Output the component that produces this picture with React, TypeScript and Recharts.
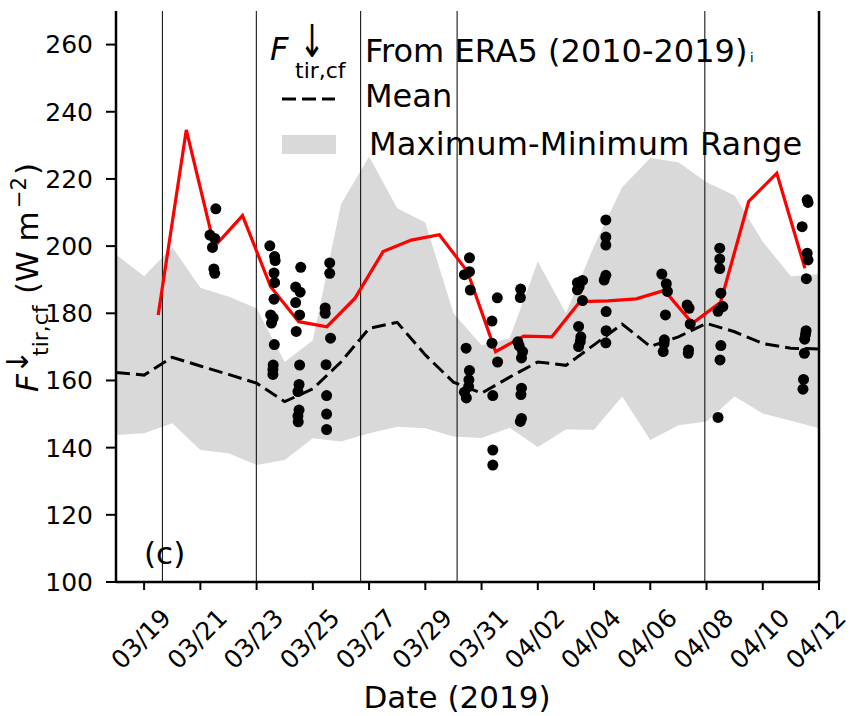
import {
    ComposedChart,
    Area,
    Line,
    Scatter,
    XAxis,
    YAxis,
    ReferenceLine,
} from 'recharts'

// day index: 0 = 03/18, 25 = 04/12
const days = [0, 1, 2, 3, 4, 5, 6, 7, 8, 9, 10, 11, 12, 13, 14, 15, 16, 17, 18, 19, 20, 21, 22, 23, 24, 25]
const eraMax = [197.5, 191, 199.7, 187.6, 185, 181.5, 165.5, 172, 212.5, 226.7, 211.3, 207, 180, 170.5, 172.6, 195.4, 180, 200, 217.5, 226.2, 225, 219, 215.1, 201.3, 191, 191.6]
const eraMin = [143.8, 144.3, 147.3, 139.3, 138.3, 134.8, 136.3, 142.8, 141.8, 144.3, 146.2, 145.8, 143.3, 142.9, 145.9, 140.2, 145.4, 145.3, 155.2, 142.3, 146.7, 147.8, 155.2, 150.2, 148, 145.8]
const eraMean = [162.4, 161.6, 166.9, 164.3, 161.8, 159.2, 153.7, 157.5, 165.5, 175.5, 177.3, 167.6, 159.5, 156.2, 161, 165.5, 164.5, 170.6, 176.8, 170.1, 173, 177, 174.5, 171, 169.6, 169.4]

// daily values 2019 (red)
const redDays = [1.5, 2.5, 3.5, 4.5, 5.5, 6.5, 7.5, 8.5, 9.5, 10.5, 11.5, 12.5, 13.5, 14.5, 15.5, 16.5, 17.5, 18.5, 19.5, 20.5, 21.5, 22.5, 23.5, 24.5]
const redVals = [179.5, 234.6, 199.9, 209.1, 187.9, 177.5, 176, 184.5, 198.4, 201.8, 203.4, 192.4, 168.6, 173.2, 173, 183.5, 183.7, 184.3, 186.8, 177, 183.3, 213.3, 221.7, 193.4]

// observations [day, value]
const obs: [number, number][] = [
    [3.55, 211.1], [3.34, 203.3], [3.51, 202.3], [3.43, 199.6], [3.48, 193.2], [3.51, 191.9],
    [5.47, 200.1], [5.64, 196.9], [5.66, 195.7], [5.62, 192], [5.64, 189.1], [5.62, 184.2], [5.5, 179.5], [5.59, 178.6], [5.53, 177.1], [5.63, 170.7], [5.59, 164.6], [5.58, 163.3], [5.58, 161.8],
    [6.57, 193.7], [6.39, 187.8], [6.55, 186.3], [6.39, 183.2], [6.53, 179.5], [6.41, 174.6], [6.53, 164.6], [6.51, 158.8], [6.47, 156.7], [6.51, 151.2], [6.47, 149.4], [6.48, 147.7],
    [7.6, 195], [7.6, 191.9], [7.44, 181.6], [7.44, 180], [7.63, 172.6], [7.47, 164.7], [7.49, 155.5], [7.49, 150], [7.49, 145.4],
    [12.57, 196.5], [12.39, 191.5], [12.57, 192.4], [12.6, 186.9], [12.45, 169.6], [12.57, 163], [12.55, 160.2], [12.54, 158.2], [12.39, 156.5], [12.46, 154.8],
    [13.56, 184.6], [13.37, 177.7], [13.37, 171.1], [13.57, 165.5], [13.4, 155.5], [13.4, 139.3], [13.4, 134.8],
    [14.39, 187.2], [14.38, 184.7], [14.29, 171.5], [14.34, 170.3], [14.46, 168.6], [14.42, 166.7], [14.42, 157.7], [14.4, 155.8], [14.42, 148.7], [14.38, 147.8],
    [16.59, 189.8], [16.41, 189.1], [16.47, 187.9], [16.41, 187], [16.59, 183.8], [16.45, 176.1], [16.53, 173], [16.51, 171.6], [16.45, 170.1],
    [17.42, 207.8], [17.42, 202.7], [17.42, 200.3], [17.42, 191.3], [17.36, 189.9], [17.43, 180.5], [17.43, 174.8], [17.42, 171.2],
    [19.41, 191.7], [19.57, 188.8], [19.61, 186.5], [19.54, 179.5], [19.5, 172.1], [19.49, 171], [19.46, 168.6],
    [20.31, 182.5], [20.38, 181.5], [20.42, 176.8], [20.36, 169.1], [20.35, 168.1],
    [21.47, 199.4], [21.47, 196.2], [21.47, 193.3], [21.51, 186], [21.58, 182], [21.41, 180.6], [21.51, 170.4], [21.48, 166.1], [21.41, 149],
    [24.58, 213.8], [24.61, 213], [24.4, 205.8], [24.58, 197.9], [24.61, 195.9], [24.55, 190.3], [24.54, 174.8], [24.52, 173.7], [24.49, 172.3], [24.48, 168.1], [24.45, 160.3], [24.43, 157.4],
]

const dividers = [1.65, 4.99, 8.7, 12.13, 20.94]

const xTicks = [1, 3, 5, 7, 9, 11, 13, 15, 17, 19, 21, 23, 25]
const xTickLabels = ['03/19', '03/21', '03/23', '03/25', '03/27', '03/29', '03/31', '04/02', '04/04', '04/06', '04/08', '04/10', '04/12']
const yTicks = [100, 120, 140, 160, 180, 200, 220, 240, 260]

const FONT = 'DejaVu Sans'
const W = 850
const H = 716

const bandData = days.map((d, i) => ({ d, lo: eraMin[i], hi: eraMax[i] }))
const meanData = days.map((d, i) => ({ d, v: eraMean[i] }))
const redData = redDays.map((d, i) => ({ d, v: redVals[i] }))
const obsData = obs.map(([d, v]) => ({ d, v }))

const axisLine = { stroke: '#000', strokeWidth: 2.5 }
const tickLine = { stroke: '#000', strokeWidth: 2 }

function DateTick({ x, y, payload }: any) {
    const i = xTicks.indexOf(payload.value)
    const cx = x - 3
    const cy = y + 49
    return (
        <text
            x={cx}
            y={cy}
            transform={`rotate(-45 ${cx} ${cy})`}
            textAnchor="middle"
            dominantBaseline="central"
            fontSize={25}
            fontFamily={FONT}
            fill="#000"
        >
            {xTickLabels[i]}
        </text>
    )
}

function Overlay() {
    return (
        <svg
            width={W}
            height={H}
            style={{ position: 'absolute', left: 0, top: 0, pointerEvents: 'none' }}
            fontFamily={FONT}
        >
            {/* legend */}
            <text x={270} y={60} fontSize={32} fontStyle="italic">F</text>
            <text transform="translate(312,57) scale(1,1.5)" fontSize={30} textAnchor="middle">↓</text>
            <text x={295} y={78} fontSize={22}>tir,cf</text>
            <text x={365} y={62} fontSize={32}>From ERA5 (2010-2019)</text>
            <text x={750} y={62} fontSize={13}>i</text>

            <line x1={282} x2={335} y1={99} y2={99} stroke="#000" strokeWidth={3} strokeDasharray="14 6" />
            <text x={365} y={107} fontSize={32}>Mean</text>

            <rect x={282} y={135} width={54} height={19} fill="#d9d9d9" />
            <text x={369} y={155} fontSize={32} letterSpacing={0.2}>Maximum-Minimum Range</text>

            {/* panel tag */}
            <text x={144} y={564} fontSize={31}>(c)</text>

            {/* x label */}
            <text x={457} y={708} fontSize={31} textAnchor="middle">Date (2019)</text>

            {/* y label */}
            <g transform="translate(38,392) rotate(-90)">
                <text x={0} y={0} fontSize={31} fontStyle="italic">F</text>
                <text x={30} y={-10} fontSize={30} textAnchor="middle">↓</text>
                <text x={36} y={10} fontSize={22}>tir,cf</text>
                <text x={98} y={0} fontSize={31}>(W m</text>
                <text x={184} y={-12} fontSize={21}>−2</text>
                <text x={217} y={0} fontSize={31}>)</text>
            </g>
        </svg>
    )
}

export default function App() {
    return (
        <div style={{ position: 'absolute', left: 0, top: 0, width: W, height: H, fontFamily: FONT }}>
            <ComposedChart width={W} height={H} margin={{ top: 11, right: 0, bottom: 0, left: 0 }}>
                <XAxis
                    dataKey="d"
                    type="number"
                    domain={[0, 25]}
                    allowDataOverflow
                    ticks={xTicks}
                    interval={0}
                    height={134}
                    tickSize={8}
                    tickMargin={0}
                    axisLine={axisLine}
                    tickLine={tickLine}
                    tick={<DateTick />}
                />
                <XAxis
                    xAxisId="top"
                    orientation="top"
                    dataKey="d"
                    type="number"
                    domain={[0, 25]}
                    allowDataOverflow
                    ticks={xTicks}
                    interval={0}
                    height={0}
                    mirror
                    tickSize={7}
                    axisLine={axisLine}
                    tickLine={tickLine}
                    tick={false}
                />
                <YAxis
                    type="number"
                    domain={[100, 270]}
                    allowDataOverflow
                    ticks={yTicks}
                    interval={0}
                    width={116}
                    tickSize={10}
                    tickMargin={13}
                    axisLine={axisLine}
                    tickLine={tickLine}
                    tick={{ fontSize: 25, fill: '#000', fontFamily: FONT }}
                />
                <YAxis
                    yAxisId="right"
                    orientation="right"
                    type="number"
                    domain={[100, 270]}
                    allowDataOverflow
                    ticks={yTicks}
                    interval={0}
                    width={31}
                    tickSize={10}
                    axisLine={axisLine}
                    tickLine={tickLine}
                    tick={false}
                />

                <Area
                    data={bandData}
                    type="linear"
                    dataKey={(e: any) => [e.lo, e.hi]}
                    fill="#d9d9d9"
                    fillOpacity={1}
                    stroke="none"
                    dot={false}
                    activeDot={false}
                    isAnimationActive={false}
                />

                {dividers.map((d) => (
                    <ReferenceLine key={d} x={d} stroke="#000" strokeWidth={1} />
                ))}

                <Line
                    data={meanData}
                    type="linear"
                    dataKey="v"
                    stroke="#000"
                    strokeWidth={3}
                    strokeDasharray="14 6"
                    dot={false}
                    activeDot={false}
                    isAnimationActive={false}
                />
                <Line
                    data={redData}
                    type="linear"
                    dataKey="v"
                    stroke="#ff0000"
                    strokeWidth={3.2}
                    dot={false}
                    activeDot={false}
                    isAnimationActive={false}
                />
                <Scatter
                    data={obsData}
                    dataKey="v"
                    fill="#000"
                    shape={(p: any) => <circle cx={p.cx} cy={p.cy} r={5.5} fill="#000" />}
                    isAnimationActive={false}
                />
            </ComposedChart>
            <Overlay />
        </div>
    )
}
